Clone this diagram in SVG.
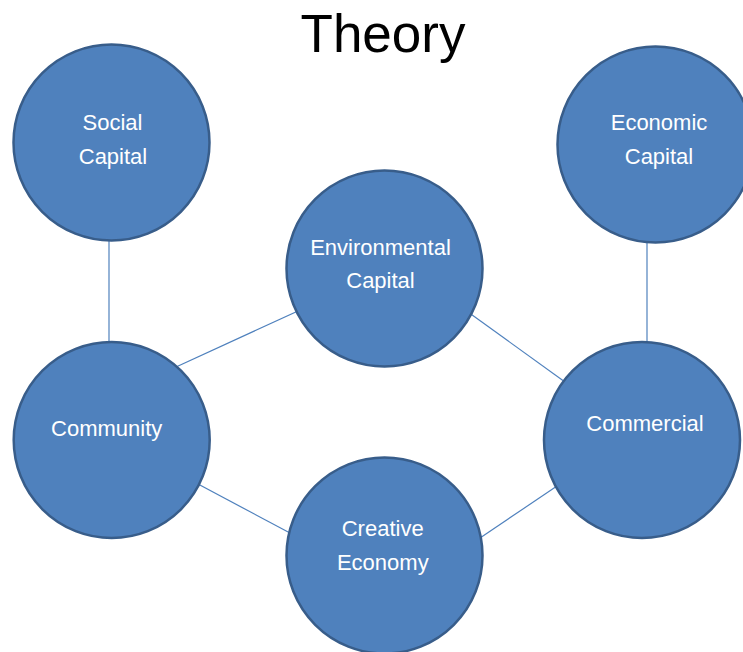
<svg xmlns="http://www.w3.org/2000/svg" width="743" height="652" viewBox="0 0 743 652">
<style>
.node{fill:#4F81BD;stroke:#385D8A;stroke-width:2.5}
.lbl{font-family:"Liberation Sans",Arial,sans-serif;font-size:22px;fill:#FFFFFF;text-anchor:middle}
.edge{stroke:#4F81BD;stroke-width:1.2;fill:none}
.title{font-family:"Liberation Sans",Arial,sans-serif;font-size:53px;fill:#000000;text-anchor:middle}
</style>
<rect width="743" height="652" fill="#FFFFFF"/>
<text class="title" x="383" y="52">Theory</text>
<g id="connectors">
<line class="edge" x1="109" y1="238" x2="109" y2="345"/>
<line class="edge" x1="647" y1="240" x2="647" y2="345"/>
<line class="edge" x1="176" y1="367" x2="298" y2="311"/>
<line class="edge" x1="468" y1="312" x2="565" y2="382"/>
<line class="edge" x1="198" y1="484" x2="290" y2="533"/>
<line class="edge" x1="480" y1="538" x2="557" y2="486"/>
</g>
<g id="social-capital">
<circle class="node" cx="111.5" cy="142.5" r="98"/>
<text class="lbl" x="112.5" y="130">Social</text>
<text class="lbl" x="113" y="163.5">Capital</text>
</g>
<g id="economic-capital">
<circle class="node" cx="655.5" cy="144.5" r="98"/>
<text class="lbl" x="659" y="130">Economic</text>
<text class="lbl" x="659" y="163.5">Capital</text>
</g>
<g id="environmental-capital">
<circle class="node" cx="384.5" cy="268.5" r="98"/>
<text class="lbl" x="380.5" y="254.5">Environmental</text>
<text class="lbl" x="380.5" y="288">Capital</text>
</g>
<g id="community">
<circle class="node" cx="111.7" cy="440" r="98"/>
<text class="lbl" x="106.7" y="436">Community</text>
</g>
<g id="commercial">
<circle class="node" cx="642" cy="440" r="98"/>
<text class="lbl" x="645" y="431">Commercial</text>
</g>
<g id="creative-economy">
<circle class="node" cx="384.5" cy="555.5" r="98"/>
<text class="lbl" x="382.7" y="536">Creative</text>
<text class="lbl" x="382.8" y="570">Economy</text>
</g>
</svg>
